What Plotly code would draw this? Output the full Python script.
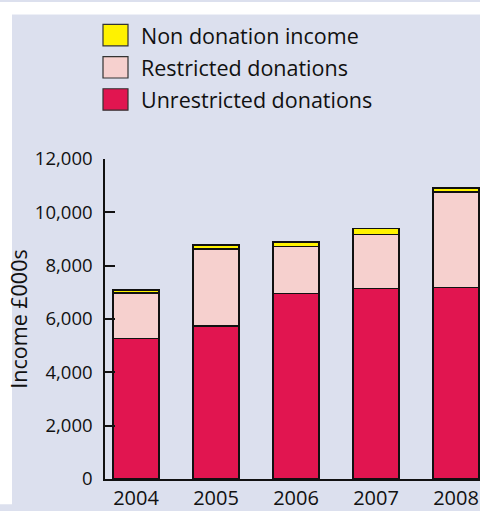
import plotly.graph_objects as go

years = ["2004", "2005", "2006", "2007", "2008"]
unrestricted = [5270, 5740, 6960, 7140, 7180]
restricted = [1700, 2890, 1760, 2020, 3580]
non_donation = [120, 150, 170, 240, 160]

series_names = ["Non donation income", "Restricted donations", "Unrestricted donations"]
colors = {"Unrestricted donations": "#e11550",
          "Restricted donations": "#f6d0ce",
          "Non donation income": "#fff200"}

W, H = 480, 511
L, R, T, B = 105, 0, 159, 24
PW, PH = W - L - R, H - T - B

def px(x):
    return (x - L) / PW

def py(y):
    return (H - B - y) / PH

fig = go.Figure()
for name, vals in [("Unrestricted donations", unrestricted),
                   ("Restricted donations", restricted),
                   ("Non donation income", non_donation)]:
    fig.add_trace(go.Bar(x=years, y=vals, name=name, width=0.575,
                         marker=dict(color=colors[name], line=dict(color="#111111", width=1.5)),
                         showlegend=False))

# white margin strips (top and left) around the lavender panel
shapes = [dict(type="rect", xref="paper", yref="paper", layer="below",
               x0=px(-2), x1=px(W + 2), y0=py(11), y1=py(-2),
               fillcolor="white", line=dict(width=0)),
          dict(type="rect", xref="paper", yref="paper", layer="below",
               x0=px(-2), x1=px(12), y0=py(H + 2), y1=py(-2),
               fillcolor="white", line=dict(width=0))]
annotations = []
row_y = [32, 65, 98]
for name, yc in zip(series_names, row_y):
    shapes.append(dict(type="rect", xref="paper", yref="paper",
                       x0=px(103), x1=px(128), y0=py(yc + 11), y1=py(yc - 11),
                       fillcolor=colors[name], line=dict(color="#333333", width=1.2)))
    annotations.append(dict(text=name, xref="paper", yref="paper", x=px(139), y=py(yc),
                            xanchor="left", yanchor="middle", showarrow=False,
                            font=dict(size=21.5, color="#111111")))

fig.update_layout(
    barmode="stack",
    width=W, height=H,
    margin=dict(l=L, r=R, t=T, b=B, pad=0),
    paper_bgcolor="#dce0ee",
    plot_bgcolor="rgba(0,0,0,0)",
    font=dict(family="Open Sans, Noto Sans, sans-serif", size=18, color="#111111"),
    shapes=shapes,
    annotations=annotations,
    xaxis=dict(range=[-0.3875, 4.3], showgrid=False, showline=True, linecolor="#111111",
               linewidth=1.5, ticks="", tickfont=dict(size=20), zeroline=False,
               fixedrange=True),
    yaxis=dict(range=[0, 12000], dtick=2000, tickformat=",d", showgrid=False, showline=True,
               linecolor="#111111", linewidth=1.5, ticks="inside", ticklen=10, tickwidth=1.5,
               tickcolor="#111111", tickfont=dict(size=18.5), zeroline=False,
               ticklabelstandoff=7,
               title=dict(text="Income £000s", font=dict(size=21.5), standoff=1),
               fixedrange=True),
)

fig.write_html("out.html", config={"displayModeBar": False},
               post_script="document.body.style.margin='0';document.body.style.overflow='hidden';")
